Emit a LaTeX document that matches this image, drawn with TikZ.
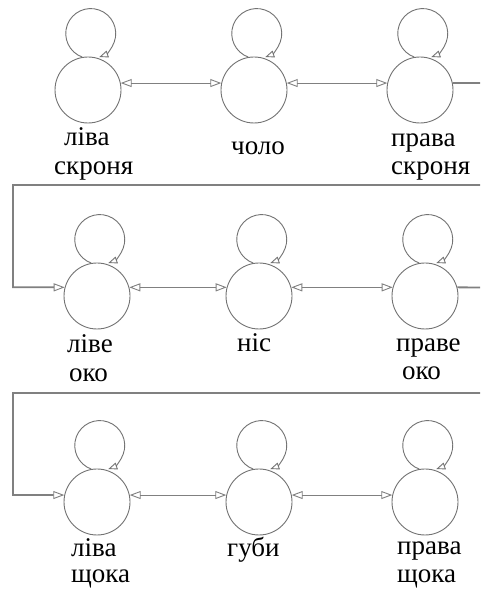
\documentclass[tikz,border=0pt]{standalone}
\usepackage{fontspec}
\setmainfont{Liberation Serif}
\usetikzlibrary{arrows.meta}
\definecolor{linegray}{RGB}{128,128,128}
\definecolor{circgray}{RGB}{115,115,115}
\tikzset{
  state/.style={circle, draw=circgray, line width=0.9pt, minimum size=66pt, inner sep=0pt},
  opentip/.tip={Triangle[open, length=11pt, width=8pt, line width=0.9pt]},
  looptip/.tip={Triangle[open, length=9pt, width=7pt, line width=0.9pt]},
  link/.style={draw=linegray, line width=1pt, opentip-opentip},
  thicklink/.style={draw=linegray, line width=1.6pt, opentip-opentip},
  wrap/.style={draw=linegray, line width=1.8pt, -opentip},
  selfloop/.style={draw=circgray, line width=0.9pt, -looptip},
  lbl/.style={anchor=base west, inner sep=0pt, font=\fontsize{27pt}{31pt}\selectfont}
}
\begin{document}
\begin{tikzpicture}[x=1pt, y=1pt]
\clip (0,0) rectangle (480,589);
\fill[white] (0,0) rectangle (480,589);

% states
\node[state] (ls) at (88,499) {};
\node[state] (ch) at (254,499) {};
\node[state] (rs) at (420,499) {};
\node[state] (le) at (97,293) {};
\node[state] (ns) at (259,293) {};
\node[state] (re) at (425,293) {};
\node[state] (lc) at (97,87) {};
\node[state] (lp) at (259,87) {};
\node[state] (rc) at (425,87) {};

% self loops
\foreach \n in {ls,ch,rs,le,ns,re,lc,lp,rc}{
  \draw[selfloop] (\n.100) arc[start angle=250, end angle=-70, radius=25];
}

% links within rows
\draw[link] (ls.12) -- (ch.168);
\draw[link] (ch.12) -- (rs.168);
\draw[thicklink] (le.15) -- (ns.165);
\draw[link] (ns.15) -- (re.165);
\draw[link] (lc.12) -- (lp.168);
\draw[link] (lp.12) -- (rc.168);

% wrap-around connectors
\coordinate (w1a) at (484,506);
\coordinate (w1b) at (484,404);
\coordinate (w1c) at (13,404);
\draw[wrap] (rs.12) -- (w1a) -- (w1b) -- (w1c) |- (le.165);
\coordinate (w2a) at (484,301.5);
\coordinate (w2b) at (484,196);
\coordinate (w2c) at (13,196);
\draw[wrap] (re.15) -- (w2a) -- (w2b) -- (w2c) |- (lc.168);

% labels
\node[lbl] (t1a) at (64,443) {ліва};
\node[lbl] (t1b) at (54,414) {скроня};
\node[lbl] (t2) at (231,434) {чоло};
\node[lbl] (t3a) at (391,442) {права};
\node[lbl] (t3b) at (391,414) {скроня};
\node[lbl] (t4a) at (67,236) {ліве};
\node[lbl] (t4b) at (69,207) {око};
\node[lbl] (t5) at (237,237) {ніс};
\node[lbl] (t6a) at (396,237) {праве};
\node[lbl] (t6b) at (402,209) {око};
\node[lbl] (t7a) at (71,32) {ліва};
\node[lbl] (t7b) at (71,6) {щока};
\node[lbl] (t8) at (227,32) {губи};
\node[lbl] (t9a) at (397,34) {права};
\node[lbl] (t9b) at (397,6) {щока};
\end{tikzpicture}
\end{document}
